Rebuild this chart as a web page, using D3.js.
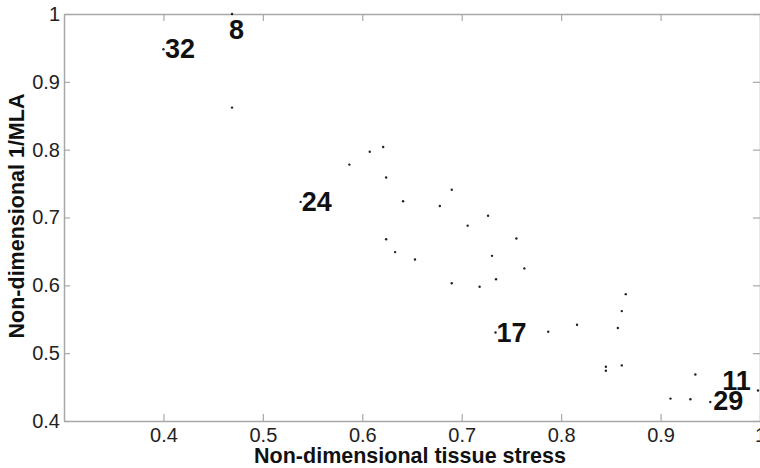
<!DOCTYPE html>
<html>
<head>
    <meta charset="utf-8">
    <style>
        body { margin: 0; background: #fff; }
        svg { display: block; font-family: 'Liberation Sans', Arial, sans-serif; }
        .axis .domain { stroke: #a8a8a8; stroke-width: 1.5; }
        .axis .tick line { stroke: #a8a8a8; stroke-width: 1.2; }
        .axis .tick text { font-size: 20px; fill: #222; }
        .axis-label { font-size: 21.5px; font-weight: bold; fill: #111; }
        .pt-label { font-size: 27px; font-weight: bold; fill: #111; }
    </style>
</head>
<body>
<svg width="760" height="468"></svg>

<script src="https://d3js.org/d3.v7.min.js"></script>
<script>
    // values
    let stress = [0.400, 0.469, 0.469, 0.538, 0.587, 0.6075, 0.621, 0.624, 0.641, 0.624,
        0.633, 0.690, 0.678, 0.7265, 0.706, 0.755, 0.653, 0.7305, 0.763, 0.7345,
        0.690, 0.718, 0.734, 0.787, 0.816, 0.865, 0.861, 0.857, 0.845, 0.845,
        0.861, 0.935, 0.910, 0.930, 0.950, 0.998]
    let invMLA = [0.948, 1.000, 0.862, 0.723, 0.778, 0.797, 0.804, 0.759, 0.724, 0.668,
        0.649, 0.741, 0.717, 0.7025, 0.688, 0.669, 0.638, 0.6435, 0.625, 0.609,
        0.603, 0.598, 0.5305, 0.5315, 0.542, 0.587, 0.562, 0.537, 0.480, 0.474,
        0.482, 0.4686, 0.433, 0.432, 0.428, 0.445]

    let labelText = ["32", "8", "24", "17", "29", "11"]
    let labelX = [0.4015, 0.466, 0.539, 0.735, 0.953, 0.962]
    let labelY = [0.948, 0.977, 0.723, 0.5295, 0.429, 0.459]

    let xTicks = [0.4, 0.5, 0.6, 0.7, 0.8, 0.9, 1]
    let yTicks = [0.4, 0.5, 0.6, 0.7, 0.8, 0.9, 1]

    let svg = d3.select("svg")
    let margin = { top: 14, right: 0, bottom: 47, left: 64 }
    let width = 760, height = 468

    let x = d3.scaleLinear()
        .domain([0.3, 1])
        .range([margin.left, width - margin.right])

    let y = d3.scaleLinear()
        .domain([0.4, 1])
        .range([height - margin.bottom, margin.top])

    let fmt = d => d === 1 ? "1" : d3.format(".1f")(d)

    // box axes, ticks pointing inward (matlab style)
    svg.append("g")
        .attr("class", "axis")
        .attr("transform", `translate(0,${y(0.4)})`)
        .call(d3.axisBottom(x).tickValues(xTicks).tickSizeInner(-7).tickSizeOuter(0).tickPadding(7).tickFormat(fmt))

    svg.append("g")
        .attr("class", "axis")
        .attr("transform", `translate(${x(0.3)},0)`)
        .call(d3.axisLeft(y).tickValues(yTicks).tickSizeInner(-6).tickSizeOuter(0).tickPadding(4).tickFormat(fmt))

    svg.append("g")
        .attr("class", "axis")
        .attr("transform", `translate(0,${y(1)})`)
        .call(d3.axisTop(x).tickValues(xTicks).tickSizeInner(-7).tickSizeOuter(0).tickFormat(""))

    svg.append("g")
        .attr("class", "axis")
        .attr("transform", `translate(${x(1)},0)`)
        .call(d3.axisRight(y).tickValues(yTicks).tickSizeInner(-7).tickSizeOuter(0).tickFormat(""))

    // points
    svg.append("g")
        .selectAll("circle")
        .data(stress)
        .join("circle")
        .attr("cx", (d, i) => x(d))
        .attr("cy", (d, i) => y(invMLA[i]))
        .attr("r", 1.2)
        .attr("fill", "#222")

    // point numbers
    svg.append("g")
        .selectAll("text")
        .data(labelText)
        .join("text")
        .attr("class", "pt-label")
        .attr("x", (d, i) => x(labelX[i]))
        .attr("y", (d, i) => y(labelY[i]))
        .attr("dominant-baseline", "central")
        .text(d => d)

    svg.append("text")
        .attr("class", "axis-label")
        .attr("x", 410)
        .attr("y", 463)
        .attr("text-anchor", "middle")
        .text("Non-dimensional tissue stress")

    svg.append("text")
        .attr("class", "axis-label")
        .attr("transform", "translate(24,216) rotate(-90)")
        .attr("text-anchor", "middle")
        .text("Non-dimensional 1/MLA")
</script>
</body>
</html>
